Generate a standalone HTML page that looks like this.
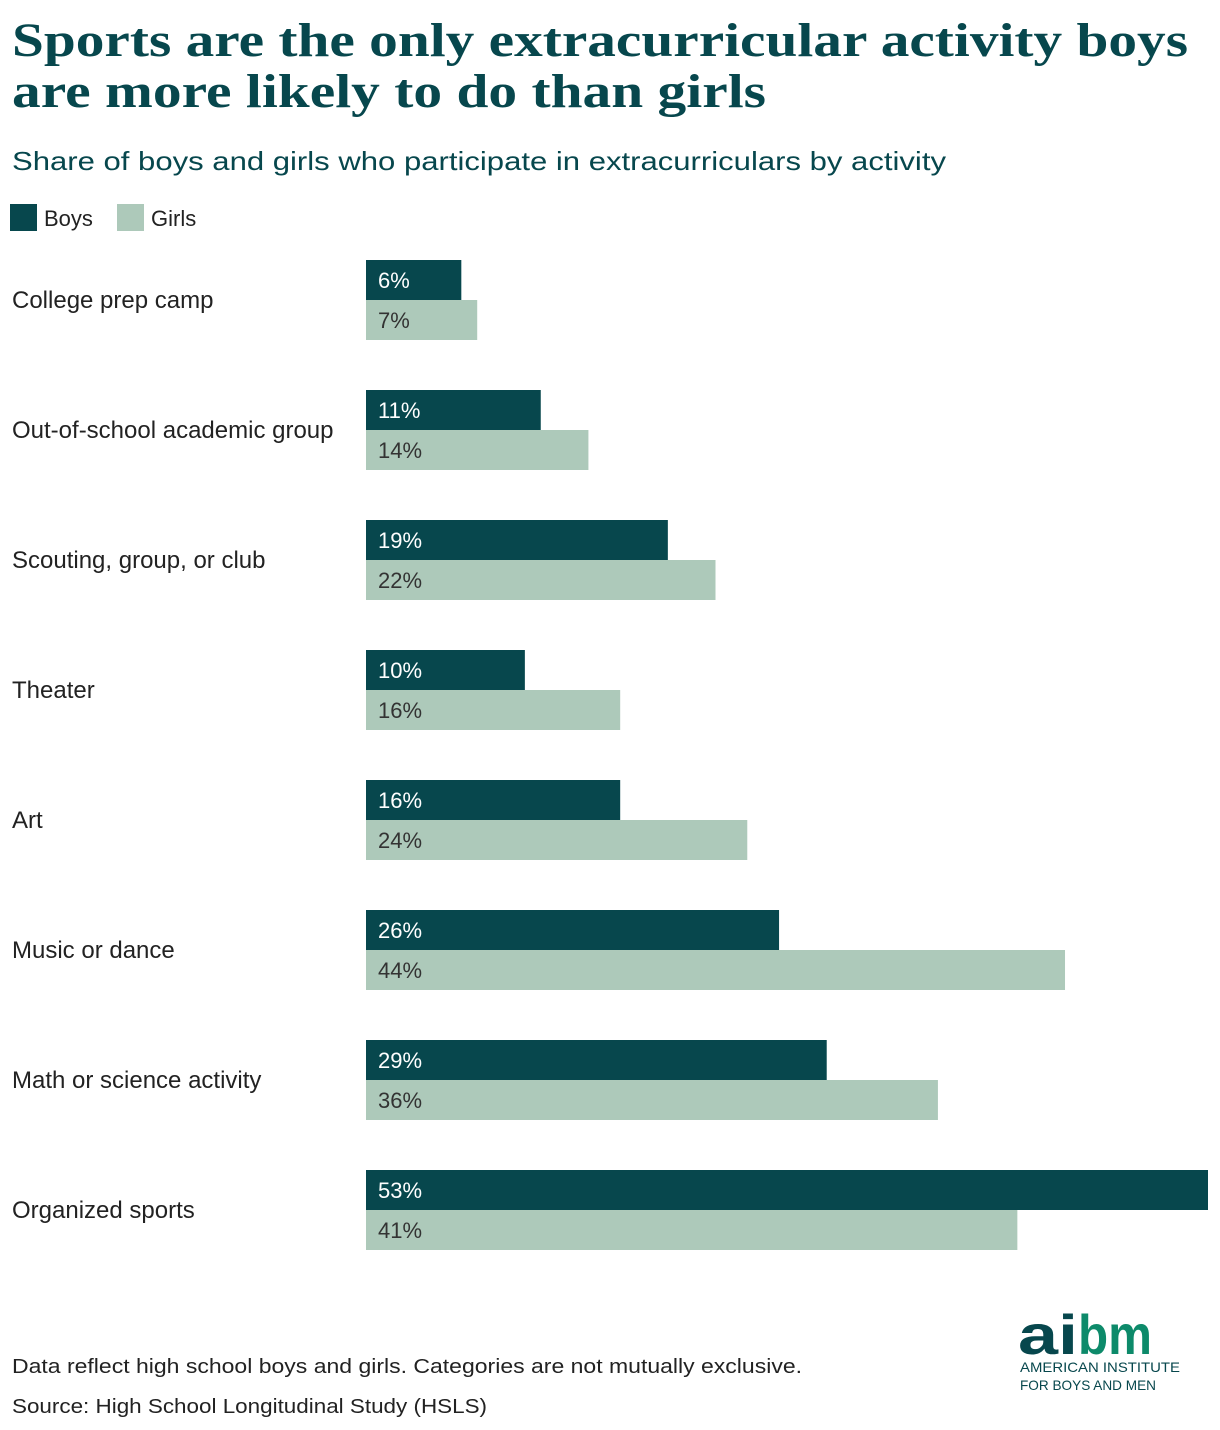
<!DOCTYPE html>
<html><head><meta charset="utf-8"><style>
body{margin:0;background:#fff;width:1220px;height:1430px;overflow:hidden}
svg{display:block}
.s{font-family:"Liberation Sans",sans-serif}
</style></head><body>
<svg id="chart" width="1220" height="1430">
<text x="12" y="56" font-family="Liberation Serif,serif" font-weight="bold" font-size="48" fill="#07474d" textLength="1176" lengthAdjust="spacingAndGlyphs">Sports are the only extracurricular activity boys</text>
<text x="12" y="107" font-family="Liberation Serif,serif" font-weight="bold" font-size="48" fill="#07474d" textLength="754" lengthAdjust="spacingAndGlyphs">are more likely to do than girls</text>
<text class="s" x="12" y="170" font-size="26" fill="#07474d" textLength="934" lengthAdjust="spacingAndGlyphs">Share of boys and girls who participate in extracurriculars by activity</text>
<rect x="10" y="204" width="27" height="27" fill="#07474d"/>
<text class="s" x="44" y="226" font-size="22" fill="#222">Boys</text>
<rect x="117" y="204" width="27" height="27" fill="#adc9ba"/>
<text class="s" x="151" y="226" font-size="22" fill="#222">Girls</text>
<g id="bars"></g>
<text class="s" x="12" y="1373" font-size="20" fill="#222" textLength="790" lengthAdjust="spacingAndGlyphs">Data reflect high school boys and girls. Categories are not mutually exclusive.</text>
<text class="s" x="12" y="1413" font-size="20" fill="#222" textLength="475" lengthAdjust="spacingAndGlyphs">Source: High School Longitudinal Study (HSLS)</text>
<g>
<text x="1018" y="1354" font-family="Liberation Sans,sans-serif" font-weight="bold" font-size="56" fill="#07474d" textLength="60" lengthAdjust="spacingAndGlyphs">ai</text>
<text x="1078" y="1354" font-family="Liberation Sans,sans-serif" font-weight="bold" font-size="56" fill="#0d8a6a" textLength="74" lengthAdjust="spacingAndGlyphs">bm</text>
<text x="1020" y="1372" class="s" font-size="14" fill="#07474d" textLength="160" lengthAdjust="spacingAndGlyphs">AMERICAN INSTITUTE</text>
<text x="1020" y="1390" class="s" font-size="14" fill="#07474d" textLength="136" lengthAdjust="spacingAndGlyphs">FOR BOYS AND MEN</text>
</g>
</svg>
<script>
const categories=["College prep camp","Out-of-school academic group","Scouting, group, or club","Theater","Art","Music or dance","Math or science activity","Organized sports"];
const boys=[6,11,19,10,16,26,29,53];
const girls=[7,14,22,16,24,44,36,41];
const x0=366, pxPer=(1208-366)/53;
const xs=v=>v*pxPer;
const rowY=i=>260+i*130;
const g=document.getElementById('bars');
const NS='http://www.w3.org/2000/svg';
function mk(tag,attrs){const e=document.createElementNS(NS,tag);for(const k in attrs)e.setAttribute(k,attrs[k]);g.appendChild(e);return e;}
categories.forEach((c,i)=>{
  const y=rowY(i);
  const l=mk('text',{x:12,y:y+48,'font-size':24,fill:'#222','font-family':'Liberation Sans,sans-serif'});
  l.textContent=c;
  
  
  const b=mk('rect',{x:x0,y:y,width:xs(boys[i]),height:40,fill:'#07474d'});
  
  
  const r=mk('rect',{x:x0,y:y+40,width:xs(girls[i]),height:40,fill:'#adc9ba'});
  
  
  const t1=mk('text',{x:x0+12,y:y+28,'font-size':22,fill:'#fff','font-family':'Liberation Sans,sans-serif'});
  t1.textContent=boys[i]+'%';
  
  
  const t2=mk('text',{x:x0+12,y:y+68,'font-size':22,fill:'#333','font-family':'Liberation Sans,sans-serif'});
  t2.textContent=girls[i]+'%';
  
  
});
</script>
</body></html>
